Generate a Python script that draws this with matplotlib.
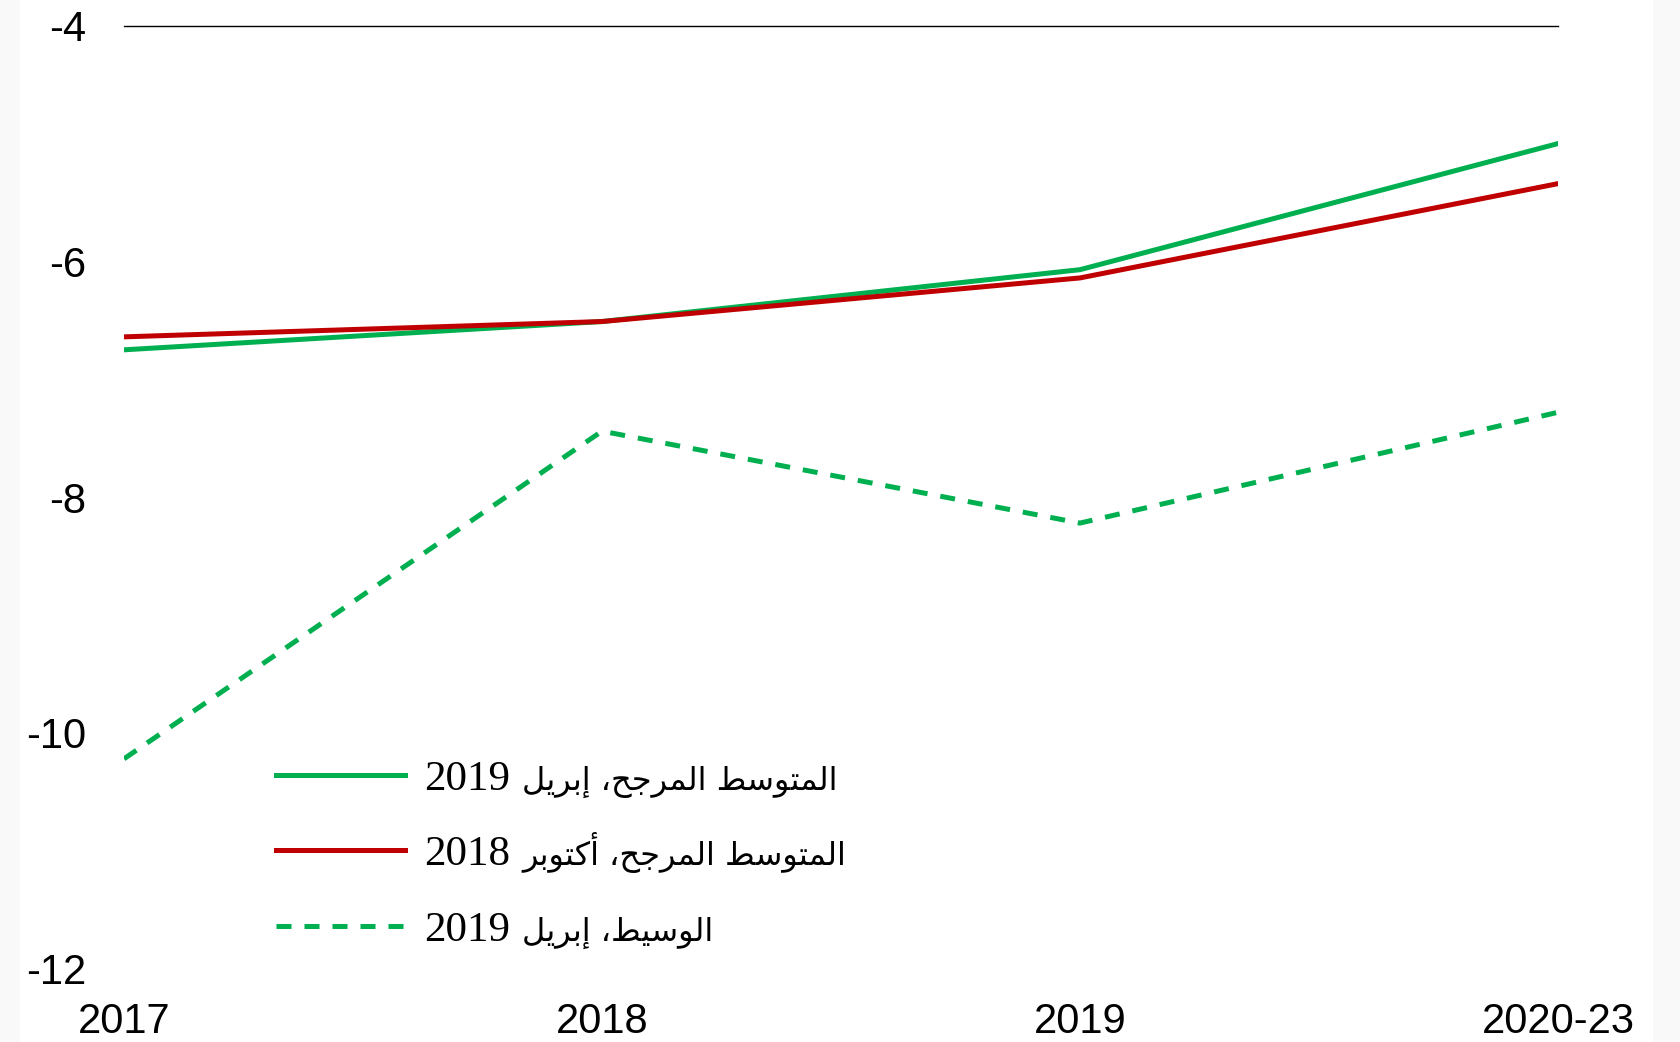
import matplotlib
matplotlib.use("Agg")
import matplotlib.pyplot as plt
from matplotlib.patches import Rectangle

years = ["2017", "2018", "2019", "2020-23"]
wavg_apr19 = [-6.75, -6.51, -6.07, -5.0]
wavg_oct18 = [-6.64, -6.51, -6.14, -5.34]
median_apr19 = [-10.22, -7.44, -8.22, -7.28]
yticks = [-4, -6, -8, -10, -12]

labels = ["المتوسط المرجح، إبريل 2019",
          "المتوسط المرجح، أكتوبر 2018",
          "الوسيط، إبريل 2019"]

# matplotlib has no arabic shaping, so map letters to presentation forms by hand
# (isolated, final, initial, medial); None for letters that don't join forward
FORMS = {
    "ا": ("\uFE8D", "\uFE8E", None, None),
    "إ": ("\uFE87", "\uFE88", None, None),
    "أ": ("\uFE83", "\uFE84", None, None),
    "و": ("\uFEED", "\uFEEE", None, None),
    "ر": ("\uFEAD", "\uFEAE", None, None),
    "ل": ("\uFEDD", "\uFEDE", "\uFEDF", "\uFEE0"),
    "م": ("\uFEE1", "\uFEE2", "\uFEE3", "\uFEE4"),
    "ت": ("\uFE95", "\uFE96", "\uFE97", "\uFE98"),
    "س": ("\uFEB1", "\uFEB2", "\uFEB3", "\uFEB4"),
    "ط": ("\uFEC1", "\uFEC2", "\uFEC3", "\uFEC4"),
    "ج": ("\uFE9D", "\uFE9E", "\uFE9F", "\uFEA0"),
    "ح": ("\uFEA1", "\uFEA2", "\uFEA3", "\uFEA4"),
    "ب": ("\uFE8F", "\uFE90", "\uFE91", "\uFE92"),
    "ي": ("\uFEF1", "\uFEF2", "\uFEF3", "\uFEF4"),
    "ك": ("\uFED9", "\uFEDA", "\uFEDB", "\uFEDC"),
}


def shape_word(w):
    out = []
    for i, ch in enumerate(w):
        if ch not in FORMS:
            out.append(ch)
            continue
        prev = w[i - 1] if i > 0 else None
        nxt = w[i + 1] if i + 1 < len(w) else None
        joins_prev = prev in FORMS and FORMS[prev][2] is not None
        joins_next = nxt in FORMS and FORMS[ch][2] is not None
        iso, fin, ini, med = FORMS[ch]
        if joins_prev and joins_next:
            out.append(med)
        elif joins_prev:
            out.append(fin)
        elif joins_next:
            out.append(ini)
        else:
            out.append(iso)
    return "".join(out)


def split_label(s):
    # number part and arabic part in visual (left-to-right) order
    words = s.split(" ")
    num = " ".join(w for w in words if w.isdigit())
    ar = [w for w in words if not w.isdigit()]
    ar_vis = " ".join(shape_word(w)[::-1] for w in ar[::-1])
    return num, ar_vis


green = "#00B050"
red = "#C00000"

fig = plt.figure(figsize=(16.8, 10.42), dpi=100)
fig.patch.set_facecolor("#f9f9f9")
fig.patches.append(Rectangle((20 / 1680, 0), (1653 - 20) / 1680, 1,
                             transform=fig.transFigure, facecolor="white",
                             edgecolor="none", zorder=-10))
ax = fig.add_axes([124 / 1680, 1 - 968.6 / 1042, (1558 - 124) / 1680, (968.6 - 25.7) / 1042])
ax.set_facecolor("none")

x = list(range(len(years)))
l_med, = ax.plot(x, median_apr19, color=green, lw=3.6, dashes=(3, 2.6), zorder=2)
l_apr, = ax.plot(x, wavg_apr19, color=green, lw=3.6, zorder=3)
l_oct, = ax.plot(x, wavg_oct18, color=red, lw=3.6, zorder=4)
ax.axhline(-4, color="black", lw=1.0, clip_on=False)

ax.set_xlim(0, 3)
ax.set_ylim(-12, -4)
ax.set_xticks(x)
ax.set_xticklabels(years)
ax.set_yticks(yticks)
ax.set_yticklabels([str(v) for v in yticks])
for s in ax.spines.values():
    s.set_visible(False)
ax.tick_params(length=0, labelsize=30, colors="black")
ax.tick_params(axis="y", pad=27)
ax.tick_params(axis="x", pad=24)
for t in ax.get_xticklabels() + ax.get_yticklabels():
    t.set_fontfamily("Liberation Sans")

parts = [split_label(s) for s in labels]
leg = ax.legend([l_apr, l_oct, l_med], [p[0] for p in parts],
                loc="upper left", bbox_to_anchor=(276 / 1680, 1 - 760 / 1042),
                bbox_transform=fig.transFigure, frameon=False,
                prop={"family": "Liberation Serif", "size": 31},
                handlelength=3.0, handletextpad=0.44, labelspacing=0.84,
                borderpad=0, borderaxespad=0)

# arabic part of each label, set right after the number on the same baseline
fig.canvas.draw()
renderer = fig.canvas.get_renderer()
for txt, (num, ar) in zip(leg.get_texts(), parts):
    bb = txt.get_window_extent(renderer)
    _, _, descent = renderer.get_text_width_height_descent("lp", txt.get_fontproperties(), ismath=False)
    fx, fy = fig.transFigure.inverted().transform((bb.x1 + 12, bb.y0 + descent))
    fig.text(fx, fy, ar, ha="left", va="baseline", fontsize=23,
             family="DejaVu Sans", color="black")

fig.savefig("out.png", dpi=100)
